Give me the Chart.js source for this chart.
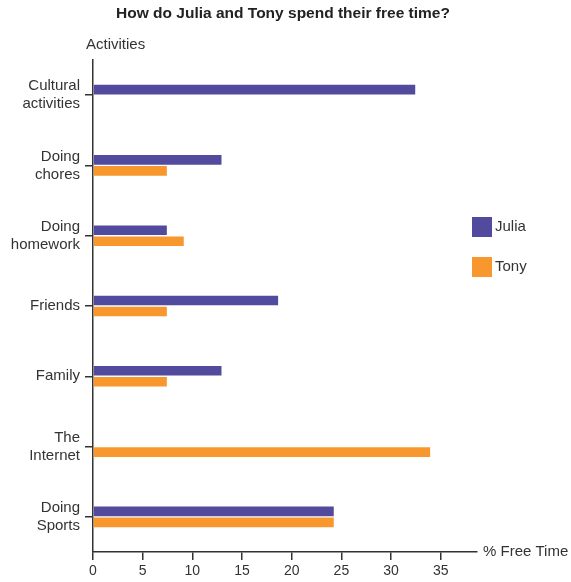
<!DOCTYPE html>
<html>
<head>
<meta charset="utf-8">
<script src="https://cdn.jsdelivr.net/npm/chart.js@4/dist/chart.umd.min.js"></script>
<style>
  html, body { margin: 0; padding: 0; background: #fff; }
  #wrap { width: 571px; height: 582px; position: relative; }
</style>
</head>
<body>
<div id="wrap"><canvas id="freeTime"></canvas></div>
<script>
const activities = [
  ['Cultural', 'activities'],
  ['Doing', 'chores'],
  ['Doing', 'homework'],
  'Friends',
  'Family',
  ['The', 'Internet'],
  ['Doing', 'Sports']
];
const seriesNames = ['Julia', 'Tony'];
const juliaValues = [32.5, 13, 7.5, 18.7, 13, null, 24.3];
const tonyValues = [null, 7.5, 9.2, 7.5, 7.5, 34, 24.3];
const seriesColors = ['#524a9d', '#f7972e'];

const FONT = '"Liberation Sans", Arial, sans-serif';

// title, axis titles and legend drawn by hand, the reference puts them in odd places
const extras = {
  id: 'extras',
  afterDraw(chart) {
    const ctx = chart.ctx;
    const area = chart.chartArea;
    ctx.save();
    ctx.textBaseline = 'middle';

    ctx.fillStyle = '#222';
    ctx.font = 'bold 15.5px ' + FONT;
    ctx.textAlign = 'center';
    ctx.fillText('How do Julia and Tony spend their free time?', 283, 14);

    ctx.fillStyle = '#333';
    ctx.font = '15px ' + FONT;
    ctx.textAlign = 'left';
    ctx.fillText('Activities', area.left - 7, 45);
    ctx.fillText('% Free Time', area.right + 6, area.bottom);

    chart.data.datasets.forEach((ds, i) => {
      const y = 217 + i * 40;
      ctx.fillStyle = ds.backgroundColor;
      ctx.fillRect(472, y, 20, 20);
      ctx.fillStyle = '#333';
      ctx.fillText(ds.label, 495, y + 10);
    });
    ctx.restore();
  }
};

new Chart(document.getElementById('freeTime'), {
  type: 'bar',
  data: {
    labels: activities,
    datasets: [
      { label: seriesNames[0], data: juliaValues, backgroundColor: seriesColors[0] },
      { label: seriesNames[1], data: tonyValues, backgroundColor: seriesColors[1] }
    ]
  },
  options: {
    indexAxis: 'y',
    responsive: true,
    maintainAspectRatio: false,
    animation: false,
    barThickness: 11,
    borderWidth: 1,
    borderColor: 'rgba(255,255,255,0.45)',
    layout: { padding: { top: 60, right: 94, bottom: 0, left: 0 } },
    plugins: {
      legend: { display: false },
      tooltip: { enabled: false },
      title: { display: false }
    },
    scales: {
      x: {
        min: 0,
        max: 38.65,
        afterFit: s => { s.height = 30; },
        border: { color: '#333', width: 1.5 },
        grid: { drawOnChartArea: false, tickLength: 8, color: '#333', lineWidth: 1.5 },
        ticks: {
          stepSize: 5,
          includeBounds: false,
          padding: 3,
          color: '#333',
          font: { family: FONT, size: 14 }
        }
      },
      y: {
        afterFit: s => { s.width = 93; },
        border: { color: '#333', width: 1.5 },
        grid: { drawOnChartArea: false, tickLength: 8, color: '#333', lineWidth: 1.5, offset: false },
        ticks: {
          padding: 5,
          color: '#333',
          font: { family: FONT, size: 15, lineHeight: 1.2 }
        }
      }
    }
  },
  plugins: [extras]
});
</script>
</body>
</html>
